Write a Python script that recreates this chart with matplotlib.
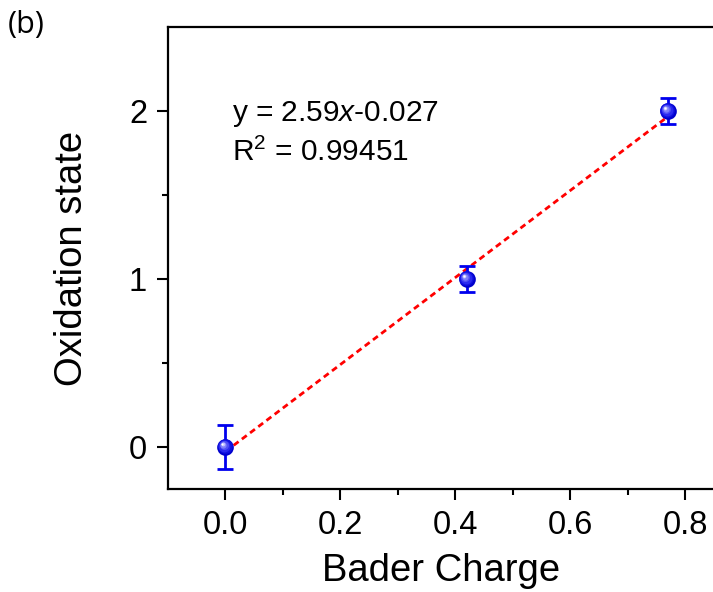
import matplotlib
matplotlib.use('Agg')
import matplotlib.pyplot as plt
import matplotlib.transforms as mtransforms
import numpy as np

plt.rcParams['font.family'] = ['Liberation Sans', 'DejaVu Sans']
plt.rcParams['mathtext.fontset'] = 'custom'
plt.rcParams['mathtext.rm'] = 'Liberation Sans'
plt.rcParams['mathtext.it'] = 'Liberation Sans:italic'

# data
baderCharge = [0.0, 0.42, 0.77]
oxidationState = [0, 1, 2]
stateErr = [0.13, 0.08, 0.075]

slope = 2.59
intercept = -0.027
fitLabel = 'y = 2.59$x$-0.027'
r2Label = 'R$^2$ = 0.99451'

xTicks = [0.0, 0.2, 0.4, 0.6, 0.8]
yTicks = [0, 1, 2]

fig = plt.figure(figsize=(7.13, 5.92), dpi=100)
ax = fig.add_axes([168 / 713, 103 / 592, 546 / 713, 462 / 592])

# fit line
xFit = np.array([baderCharge[0], baderCharge[-1]])
ax.plot(xFit, slope * xFit + intercept, color='red', lw=2.0,
        linestyle=(0, (2.2, 1.5)), zorder=2)

ax.errorbar(baderCharge, oxidationState, yerr=stateErr, fmt='none',
            ecolor='#0000ee', elinewidth=2.0, capsize=5.5, capthick=2.0, zorder=3)

# shaded ball markers
layers = [(12, '#0000cc', 0.0), (10.5, '#1010e0', -0.4), (8.5, '#2a2af0', -0.8),
          (6.5, '#5050f5', -1.2), (4.5, '#8080fa', -1.6), (2.8, '#c0c0ff', -2.0),
          (1.5, '#ffffff', -2.2)]
for size, col, off in layers:
    tr = ax.transData + mtransforms.ScaledTranslation(off / 72, -off / 72, fig.dpi_scale_trans)
    ax.plot(baderCharge, oxidationState, 'o', ms=size, color=col, mec='none',
            transform=tr, zorder=4)

ax.text(0.012, 1.94, fitLabel, fontsize=21.5, va='baseline')
ax.text(0.012, 1.70, r2Label, fontsize=21.5, va='baseline')

ax.set_xlim(-0.1, 0.85)
ax.set_ylim(-0.25, 2.5)
ax.set_xticks(xTicks)
ax.set_xticklabels([f'{v:.1f}' for v in xTicks])
ax.set_yticks(yTicks)
ax.set_xticks([0.1, 0.3, 0.5, 0.7], minor=True)
ax.set_yticks([0.5, 1.5], minor=True)

ax.spines['right'].set_visible(False)
for s in ['left', 'top', 'bottom']:
    ax.spines[s].set_linewidth(1.6)
ax.tick_params(which='major', direction='out', length=8, width=1.5, labelsize=23.5, pad=7)
ax.tick_params(which='minor', direction='out', length=4, width=1.5)
ax.tick_params(top=False, right=False)

ax.set_xlabel('Bader Charge', fontsize=27.5, labelpad=9)
ax.set_ylabel('Oxidation state', fontsize=27.5, labelpad=28)

fig.text(8 / 713, 1 - 33 / 592, '(b)', fontsize=22, family='Open Sans')

fig.savefig('out.png', dpi=100)
